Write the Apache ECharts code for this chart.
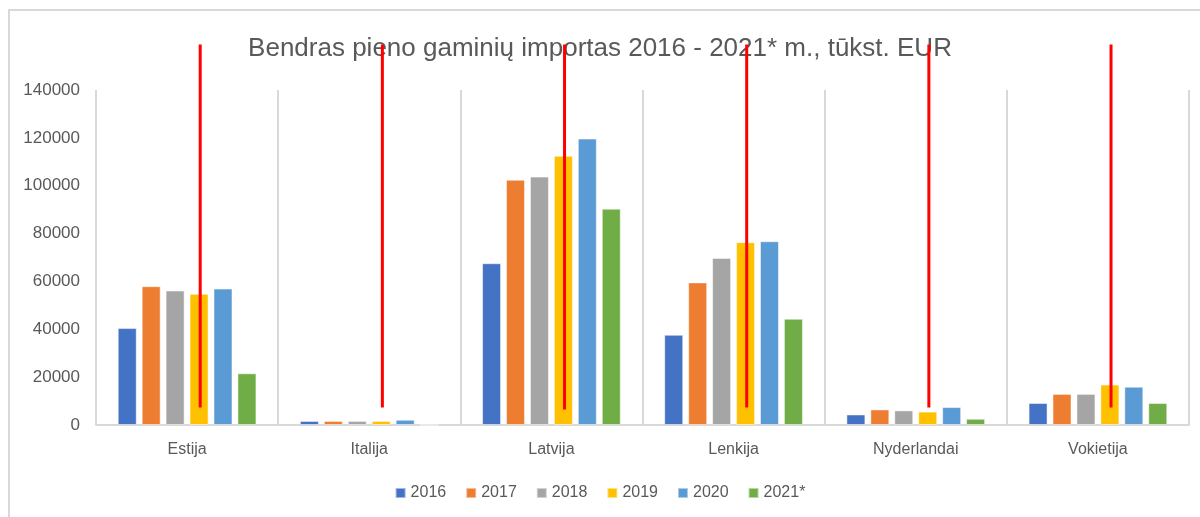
<!DOCTYPE html>
<html>
<head>
<meta charset="utf-8">
<script src="https://cdn.jsdelivr.net/npm/echarts@6/dist/echarts.min.js"></script>
<style>
  html, body { margin: 0; padding: 0; background: #fff; }
  #chart { width: 1200px; height: 517px; }
</style>
</head>
<body>
<div id="chart"></div>
<script>
const countries = ['Estija', 'Italija', 'Latvija', 'Lenkija', 'Nyderlandai', 'Vokietija']
const years = ['2016', '2017', '2018', '2019', '2020', '2021*']
const colors = ['#4472C4', '#ED7D31', '#A5A5A5', '#FFC000', '#5B9BD5', '#70AD47']

const v2016 = [40500, 1700, 67600, 37700, 4400, 9200]
const v2017 = [58000, 1700, 102500, 59600, 6500, 13000]
const v2018 = [56200, 1700, 103800, 69800, 6100, 13000]
const v2019 = [54800, 1700, 112500, 76400, 5600, 16900]
const v2020 = [57000, 2200, 119700, 76800, 7500, 16000]
const v2021 = [21600, 0, 90400, 44400, 2600, 9200]
const yearValues = [v2016, v2017, v2018, v2019, v2020, v2021]

// red marker strokes drawn over the picture (value range of each stroke)
const markLow = [7300, 7300, 6500, 7300, 7300, 7300]
const markHigh = [159000, 159000, 159000, 159000, 159000, 159000]

const yTicks = [0, 20000, 40000, 60000, 80000, 100000, 120000, 140000]

const chart = echarts.init(document.getElementById('chart'))
const textColor = '#595959'
const font = 'Liberation Sans'

const barSeries = years.map((y, i) => ({
  name: y,
  type: 'bar',
  barWidth: 19,
  barGap: '26%',
  data: yearValues[i],
  itemStyle: { color: colors[i], borderColor: 'rgba(255,255,255,0.5)', borderWidth: 1 }
}))

const markSeries = {
  type: 'custom',
  z: 10,
  clip: false,
  silent: true,
  encode: { x: 0, y: [1, 2] },
  data: countries.map((c, i) => [i, markLow[i], markHigh[i]]),
  renderItem: (params, api) => {
    const bottom = api.coord([api.value(0), api.value(1)])
    const top = api.coord([api.value(0), api.value(2)])
    const off = api.size([1, 0])[0] * 0.072
    return {
      type: 'line',
      shape: { x1: bottom[0] + off, y1: bottom[1], x2: top[0] + off, y2: top[1] },
      style: { stroke: '#ff0000', lineWidth: 3 }
    }
  }
}

chart.setOption({
  animation: false,
  textStyle: { fontFamily: font },
  title: {
    text: 'Bendras pieno gaminių importas 2016 - 2021* m., tūkst. EUR',
    left: 'center',
    top: 31,
    textStyle: { color: textColor, fontSize: 26, fontWeight: 'normal', fontFamily: font }
  },
  graphic: [{
    type: 'rect',
    shape: { x: 9, y: 10, width: 1300, height: 700 },
    style: { fill: 'none', stroke: '#d9d9d9', lineWidth: 2 },
    silent: true
  }],
  legend: {
    data: years,
    bottom: 11,
    left: 'center',
    icon: 'rect',
    itemWidth: 10,
    itemHeight: 10,
    itemGap: 19,
    textStyle: { color: textColor, fontSize: 16, fontFamily: font }
  },
  grid: {
    left: 96,
    right: 11,
    top: 90,
    bottom: 92
  },
  xAxis: {
    type: 'category',
    data: countries,
    axisLine: { lineStyle: { color: '#d9d9d9', width: 2 } },
    axisTick: { show: false },
    splitLine: { show: true, lineStyle: { color: '#d9d9d9', width: 2 } },
    axisLabel: { color: textColor, fontSize: 16, margin: 17 }
  },
  yAxis: {
    type: 'value',
    min: yTicks[0],
    max: yTicks[yTicks.length - 1],
    interval: yTicks[1] - yTicks[0],
    axisLine: { show: false },
    axisTick: { show: false },
    splitLine: { show: false },
    axisLabel: { color: textColor, fontSize: 17, margin: 16, formatter: (v) => String(v) }
  },
  series: barSeries.concat([markSeries])
})
</script>
</body>
</html>
